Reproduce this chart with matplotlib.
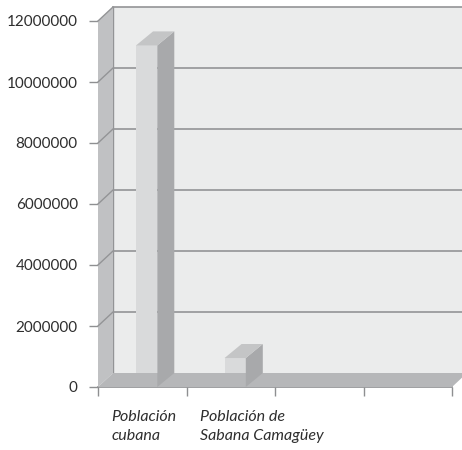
import numpy as np
import matplotlib
matplotlib.use('Agg')
import matplotlib.pyplot as plt
from matplotlib.patches import Polygon
from matplotlib.transforms import ScaledTranslation

# data
categories = ['Población\ncubana', 'Población de\nSabana Camagüey']
values = [11200000, 950000]
n_slots = 4
yticks = [0, 2000000, 4000000, 6000000, 8000000, 10000000, 12000000]

DPI = 100
fig = plt.figure(figsize=(4.62, 4.5), dpi=DPI)
ax = fig.add_axes([98 / 462, 63 / 450, 354 / 462, 366 / 450])
ax.set_xlim(0, n_slots)
ax.set_ylim(0, yticks[-1])

# depth offset of the walls and bars, in pixels
wall_off = ax.transData + ScaledTranslation(15 / DPI, 14 / DPI, fig.dpi_scale_trans)
bar_off = ax.transData + ScaledTranslation(17 / DPI, 14 / DPI, fig.dpi_scale_trans)

top = yticks[-1]
grid_c = '#939496'


def quad(front, back, color, z):
    # front pair in data coords, back pair drawn with the offset
    p1 = ax.transData.transform(front)
    p2 = back[0].transform(back[1])
    pts = np.vstack([p1, p2[::-1]])
    poly = Polygon(pts, closed=True, facecolor=color, edgecolor='none',
                   transform=None, zorder=z, clip_on=False)
    fig.add_artist(poly)


# back wall
bw = Polygon([[0, 0], [n_slots, 0], [n_slots, top], [0, top]], closed=True,
             facecolor='#ebecec', edgecolor='none', transform=wall_off,
             clip_on=False, zorder=1)
ax.add_patch(bw)
# left wall
quad([[0, 0], [0, top]], (wall_off, [[0, 0], [0, top]]), '#c0c1c3', 1)
# floor
quad([[0, 0], [n_slots, 0]], (wall_off, [[0, 0], [n_slots, 0]]), '#b6b7b9', 2)

# gridlines on back wall and left wall
for v in yticks[1:]:
    ax.plot([0, n_slots], [v, v], color=grid_c, lw=1.2, transform=wall_off,
            clip_on=False, zorder=3)
    p1 = ax.transData.transform((0, v))
    p2 = wall_off.transform((0, v))
    fig.add_artist(plt.Line2D([p1[0], p2[0]], [p1[1], p2[1]], color=grid_c,
                              lw=1.0, transform=None, zorder=3))
ax.plot([0, 0], [0, top], color=grid_c, lw=1.0, transform=wall_off,
        clip_on=False, zorder=3)
ax.plot([0, n_slots], [0, 0], color='#8e8f91', lw=1.2, clip_on=False, zorder=3)

# bars
bar_w = 0.24
for i, v in enumerate(values):
    x0 = i + 0.55 - bar_w / 2
    x1 = x0 + bar_w
    quad([[x1, 0], [x1, v]], (bar_off, [[x1, 0], [x1, v]]), '#a8a9ab', 5)
    quad([[x0, v], [x1, v]], (bar_off, [[x0, v], [x1, v]]), '#c4c5c6', 5)
    ax.add_patch(Polygon([[x0, 0], [x1, 0], [x1, v], [x0, v]], closed=True,
                         facecolor='#d9dadb', edgecolor='none', zorder=6,
                         clip_on=False))

# axes styling
for s in ax.spines.values():
    s.set_visible(False)
ax.set_facecolor('none')
ax.set_yticks(yticks)
ax.set_yticklabels([str(t) for t in yticks], fontsize=11, color='#2e2e2e',
                   family='Lato')
ax.set_xticks(range(n_slots + 1))
ax.set_xticklabels([])
ax.tick_params(axis='both', direction='out', length=6.5, width=1,
               color='#8e8f91')
ax.tick_params(axis='y', pad=8)

for i, lab in enumerate(categories):
    ax.text(i + 0.15, -760000, lab, ha='left', va='top', fontsize=11.5,
            style='italic', family='Lato', color='#2e2e2e', linespacing=1.4)

fig.savefig('out.png', dpi=DPI)
